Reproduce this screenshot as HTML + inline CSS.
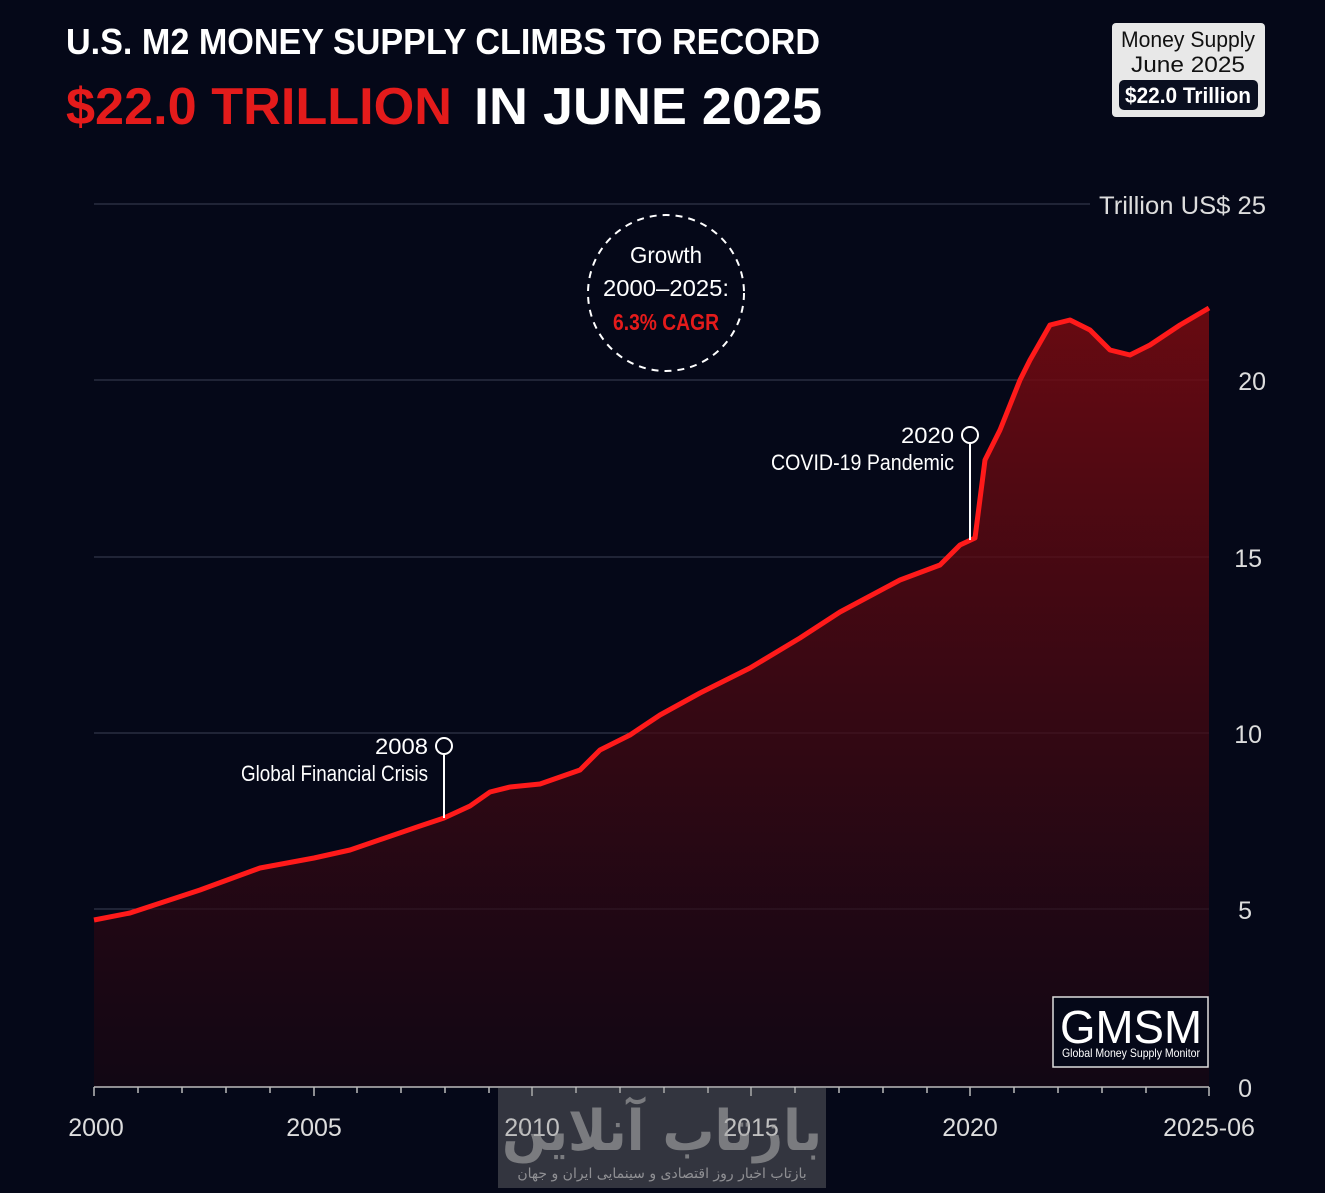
<!DOCTYPE html>
<html><head><meta charset="utf-8"><style>
body{margin:0;width:1325px;height:1188px;background:#050818;overflow:hidden;font-family:"Liberation Sans","Noto Sans CJK SC",sans-serif}
</style></head><body>
<svg width="1325" height="1188" viewBox="0 0 1325 1188" xmlns="http://www.w3.org/2000/svg">
<defs>
<linearGradient id="g" x1="0" y1="0" x2="0" y2="1">
<stop offset="0" stop-color="#7a0a10" stop-opacity="0.85"/>
<stop offset="1" stop-color="#1a0612" stop-opacity="0.6"/>
</linearGradient>
</defs>
<rect width="1325" height="1188" fill="#050818"/>
<text x="66" y="54" fill="#fff" font-size="36" font-weight="bold" textLength="754" lengthAdjust="spacingAndGlyphs">U.S. M2 MONEY SUPPLY CLIMBS TO RECORD</text>
<text x="66" y="124" fill="#e41b1b" font-size="52" font-weight="bold" textLength="386" lengthAdjust="spacingAndGlyphs">$22.0 TRILLION</text>
<text x="474" y="124" fill="#fff" font-size="52" font-weight="bold" textLength="348" lengthAdjust="spacingAndGlyphs">IN JUNE 2025</text>
<rect x="1112" y="23" width="153" height="94" rx="4" fill="#e8e8e8"/>
<text x="1188" y="47" fill="#111" font-size="22" text-anchor="middle" textLength="134" lengthAdjust="spacingAndGlyphs">Money Supply</text>
<text x="1188" y="72" fill="#111" font-size="22" text-anchor="middle" textLength="114" lengthAdjust="spacingAndGlyphs">June 2025</text>
<rect x="1119" y="80" width="139" height="30" rx="5" fill="#0a0f20"/>
<text x="1188" y="103" fill="#fff" font-size="22" font-weight="bold" text-anchor="middle" textLength="126" lengthAdjust="spacingAndGlyphs">$22.0 Trillion</text>
<g stroke="#3a3f55" stroke-width="1">
<line x1="94" y1="204" x2="1090" y2="204"/>
<line x1="94" y1="380" x2="1209" y2="380"/>
<line x1="94" y1="557" x2="1209" y2="557"/>
<line x1="94" y1="733" x2="1209" y2="733"/>
<line x1="94" y1="909" x2="1209" y2="909"/>
</g>
<g fill="#ddd" font-size="25">
<text x="1266" y="214" text-anchor="end" textLength="167" lengthAdjust="spacingAndGlyphs">Trillion US$ 25</text>
<text x="1266" y="390" text-anchor="end">20</text>
<text x="1262" y="567" text-anchor="end">15</text>
<text x="1262" y="743" text-anchor="end">10</text>
<text x="1252" y="919" text-anchor="end">5</text>
<text x="1252" y="1097" text-anchor="end">0</text>
</g>
<path d="M94,920 L130,913 L200,890 L260,868 L314,858 L350,850 L420,826 L444,818 L470,806 L490,792 L510,787 L540,784 L580,770 L600,750 L630,735 L660,715 L700,693 L750,668 L760,662 L800,638 L840,612 L900,580 L940,565 L960,545 L975,538 L985,460 L1000,430 L1020,380 L1030,360 L1050,325 L1070,320 L1090,330 L1100,340 L1110,350 L1130,355 L1150,345 L1180,325 L1209,308 L1209,1087 L94,1087 Z" fill="url(#g)"/>
<path d="M94,920 L130,913 L200,890 L260,868 L314,858 L350,850 L420,826 L444,818 L470,806 L490,792 L510,787 L540,784 L580,770 L600,750 L630,735 L660,715 L700,693 L750,668 L760,662 L800,638 L840,612 L900,580 L940,565 L960,545 L975,538 L985,460 L1000,430 L1020,380 L1030,360 L1050,325 L1070,320 L1090,330 L1100,340 L1110,350 L1130,355 L1150,345 L1180,325 L1209,308" fill="none" stroke="#ff1a1a" stroke-width="5" stroke-linejoin="round"/>
<line x1="94" y1="1087" x2="1209" y2="1087" stroke="#bbb" stroke-width="1.5"/>
<g stroke="#bbb" stroke-width="1.5">
<line x1="94" y1="1087" x2="94" y2="1096"/><line x1="138" y1="1087" x2="138" y2="1093"/><line x1="182" y1="1087" x2="182" y2="1093"/><line x1="226" y1="1087" x2="226" y2="1093"/><line x1="270" y1="1087" x2="270" y2="1093"/><line x1="314" y1="1087" x2="314" y2="1096"/><line x1="357" y1="1087" x2="357" y2="1093"/><line x1="401" y1="1087" x2="401" y2="1093"/><line x1="445" y1="1087" x2="445" y2="1093"/><line x1="489" y1="1087" x2="489" y2="1093"/><line x1="532" y1="1087" x2="532" y2="1096"/><line x1="576" y1="1087" x2="576" y2="1093"/><line x1="620" y1="1087" x2="620" y2="1093"/><line x1="664" y1="1087" x2="664" y2="1093"/><line x1="708" y1="1087" x2="708" y2="1093"/><line x1="751" y1="1087" x2="751" y2="1096"/><line x1="795" y1="1087" x2="795" y2="1093"/><line x1="839" y1="1087" x2="839" y2="1093"/><line x1="883" y1="1087" x2="883" y2="1093"/><line x1="927" y1="1087" x2="927" y2="1093"/><line x1="970" y1="1087" x2="970" y2="1096"/><line x1="1014" y1="1087" x2="1014" y2="1093"/><line x1="1058" y1="1087" x2="1058" y2="1093"/><line x1="1102" y1="1087" x2="1102" y2="1093"/><line x1="1146" y1="1087" x2="1146" y2="1093"/><line x1="1209" y1="1087" x2="1209" y2="1096"/>
</g>
<g fill="#ddd" font-size="25" text-anchor="middle">
<text x="96" y="1136">2000</text><text x="314" y="1136">2005</text><text x="532" y="1136">2010</text><text x="751" y="1136">2015</text><text x="970" y="1136">2020</text><text x="1209" y="1136">2025-06</text>
</g>
<rect x="498" y="1088" width="328" height="100" fill="#8a8a8a" opacity="0.35"/>
<text x="662" y="1150" fill="#aaa" opacity="0.6" font-size="56" font-weight="bold" text-anchor="middle" font-family="DejaVu Sans,sans-serif" textLength="320" lengthAdjust="spacingAndGlyphs">بازتاب آنلاین</text>
<text x="662" y="1178" fill="#ccc" opacity="0.6" font-size="14" text-anchor="middle" font-family="DejaVu Sans,sans-serif">بازتاب اخبار روز اقتصادی و سینمایی ایران و جهان</text>
<circle cx="666" cy="293" r="78" fill="none" stroke="#fff" stroke-width="2" stroke-dasharray="7,6"/>
<text x="666" y="263" fill="#fff" font-size="23" text-anchor="middle" textLength="72" lengthAdjust="spacingAndGlyphs">Growth</text>
<text x="666" y="296" fill="#fff" font-size="23" text-anchor="middle" textLength="126" lengthAdjust="spacingAndGlyphs">2000–2025:</text>
<text x="666" y="330" fill="#e41b1b" font-size="23" font-weight="bold" text-anchor="middle" textLength="106" lengthAdjust="spacingAndGlyphs">6.3% CAGR</text>
<line x1="444" y1="755" x2="444" y2="818" stroke="#fff" stroke-width="2"/>
<circle cx="444" cy="746" r="8" fill="#050818" stroke="#fff" stroke-width="2"/>
<text x="428" y="754" fill="#fff" font-size="22" text-anchor="end" textLength="53" lengthAdjust="spacingAndGlyphs">2008</text>
<text x="428" y="781" fill="#fff" font-size="22" text-anchor="end" textLength="187" lengthAdjust="spacingAndGlyphs">Global Financial Crisis</text>
<line x1="970" y1="444" x2="970" y2="540" stroke="#fff" stroke-width="2"/>
<circle cx="970" cy="435" r="8" fill="#050818" stroke="#fff" stroke-width="2"/>
<text x="954" y="443" fill="#fff" font-size="22" text-anchor="end" textLength="53" lengthAdjust="spacingAndGlyphs">2020</text>
<text x="954" y="470" fill="#fff" font-size="22" text-anchor="end" textLength="183" lengthAdjust="spacingAndGlyphs">COVID-19 Pandemic</text>
<rect x="1053" y="997" width="155" height="70" fill="#050818" stroke="#ddd" stroke-width="1.5"/>
<text x="1131" y="1043" fill="#fff" font-size="46" text-anchor="middle" textLength="142" lengthAdjust="spacingAndGlyphs">GMSM</text>
<text x="1131" y="1057" fill="#fff" font-size="12" text-anchor="middle" textLength="138" lengthAdjust="spacingAndGlyphs">Global Money Supply Monitor</text>
</svg>
</body></html>
